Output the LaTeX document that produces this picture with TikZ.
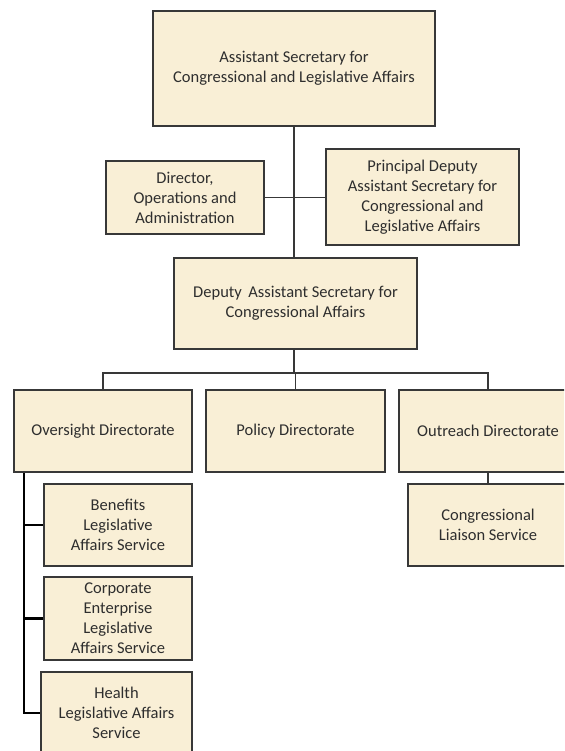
\documentclass[tikz,border=0pt]{standalone}
\usepackage{fontspec}
\setmainfont{Carlito}
\definecolor{boxfill}{HTML}{F9EFD6}
\definecolor{boxline}{HTML}{383838}
\definecolor{txt}{HTML}{2E2E2E}
\begin{document}
\begin{tikzpicture}[x=1pt,y=-1pt,
  orgbox/.style={draw=boxline,line width=1.3pt,fill=boxfill,align=center,
    text=txt,inner sep=2pt,font=\fontsize{16.5}{20}\selectfont},
  link/.style={draw=boxline,line width=1.4pt},
  tree/.style={draw=black,line width=2.3pt}]
\clip (0,0) rectangle (564,751);
\fill[white] (0,0) rectangle (564,751);

\node[orgbox,minimum width=282pt,minimum height=115pt] (asec) at (294,68.5)
  {Assistant Secretary for\\Congressional and Legislative Affairs};
\node[orgbox,minimum width=158pt,minimum height=73pt] (dir) at (185,197.5)
  {Director,\\Operations and\\Administration};
\node[orgbox,minimum width=193pt,minimum height=96pt] (pdas) at (422.5,197)
  {Principal Deputy\\Assistant Secretary for\\Congressional and\\Legislative Affairs};
\node[orgbox,minimum width=243pt,minimum height=91pt] (dep) at (295.5,303.5)
  {Deputy\, Assistant Secretary for\\Congressional Affairs};

\node[orgbox,minimum width=178pt,minimum height=82pt] (over) at (103,431)
  {Oversight Directorate};
\node[orgbox,minimum width=179pt,minimum height=82pt] (pol) at (295.5,431)
  {Policy Directorate};
\node[orgbox,minimum width=178pt,minimum height=82pt] (out) at (488,431)
  {Outreach Directorate};

\node[orgbox,minimum width=160pt,minimum height=82pt] (liai) at (488,525)
  {Congressional\\Liaison Service};
\node[orgbox,minimum width=148pt,minimum height=82pt] (ben) at (118,525)
  {Benefits\\Legislative\\Affairs Service};
\node[orgbox,minimum width=148pt,minimum height=83pt] (corp) at (118,618.5)
  {Corporate\\Enterprise\\Legislative\\Affairs Service};
\node[orgbox,minimum width=151pt,minimum height=82pt] (health) at (116.5,713)
  {Health\\Legislative Affairs\\Service};

\coordinate (spine) at (294,0);
\coordinate (bus) at (0,373);
\coordinate (treex) at (24,0);

\draw[link] (asec.south -| spine) -- (dep.north -| spine);
\draw[link] (dir.east) -- (pdas.west |- dir.east);
\draw[link] (dep.south -| spine) -- (bus -| spine);
\draw[link] (over.north) |- (bus -| spine) -| (out.north);
\draw[link] (bus -| pol.north) -- (pol.north);
\draw[link] (out.south) -- (liai.north -| out.south);

\draw[tree] (over.south -| treex) |- (health.west);
\draw[tree] (ben.west -| treex) -- (ben.west);
\draw[tree] (corp.west -| treex) -- (corp.west);
\end{tikzpicture}
\end{document}
